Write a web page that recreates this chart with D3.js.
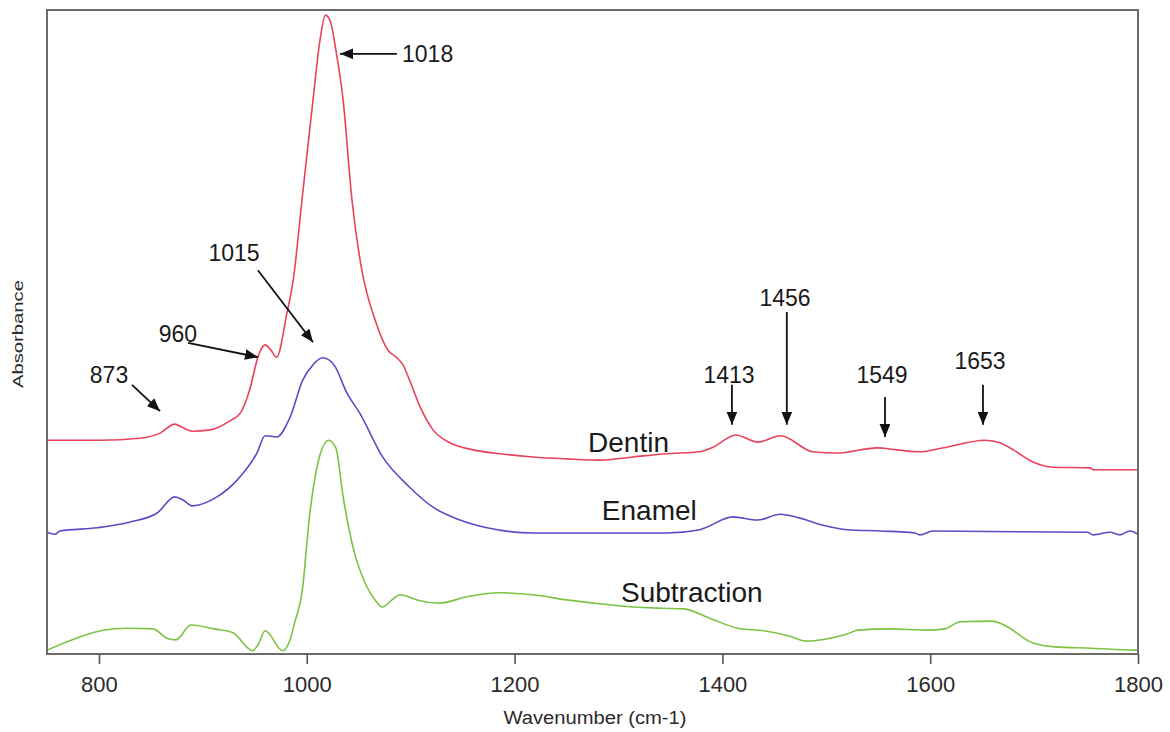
<!DOCTYPE html>
<html>
<head>
<meta charset="utf-8">
<script src="https://cdn.jsdelivr.net/npm/d3@7"></script>
<style>
  html, body { margin: 0; padding: 0; background: #fff; }
  svg { display: block; font-family: "Liberation Sans", Arial, sans-serif; }
</style>
</head>
<body>
<svg id="chart" width="1170" height="732"></svg>
<script>
// FTIR spectra: wavenumber (cm-1) vs absorbance (arbitrary, offset traces)
const dentinWave = [750, 801, 839.5, 858.8, 873, 880, 889.6, 907, 926, 936, 945, 953, 957, 960, 965, 971, 981, 987, 995.4, 1006, 1012.7, 1018, 1023, 1028, 1035, 1043.5, 1053, 1065.7, 1078, 1086, 1092.6, 1099, 1109, 1121.5, 1137.9, 1160, 1186, 1217.7, 1250, 1282, 1314, 1346.7, 1378.5, 1391, 1413, 1434, 1456, 1487, 1510, 1549, 1568, 1590, 1612, 1653, 1667, 1680, 1699, 1718, 1754, 1757, 1800];
const dentinAbs  = [0.332, 0.332, 0.335, 0.343, 0.357, 0.352, 0.346, 0.348, 0.362, 0.374, 0.410, 0.461, 0.476, 0.480, 0.473, 0.461, 0.530, 0.581, 0.705, 0.860, 0.953, 0.992, 0.981, 0.938, 0.860, 0.705, 0.596, 0.519, 0.472, 0.461, 0.449, 0.425, 0.384, 0.348, 0.328, 0.317, 0.311, 0.306, 0.303, 0.301, 0.306, 0.311, 0.314, 0.321, 0.340, 0.329, 0.339, 0.314, 0.312, 0.320, 0.317, 0.314, 0.320, 0.332, 0.328, 0.317, 0.298, 0.290, 0.289, 0.286, 0.286];

const enamelWave = [750, 757.7, 762.5, 798, 830, 856, 873, 881, 889.6, 913.6, 933, 952, 960, 971, 984, 996, 1006, 1015, 1021, 1027, 1038.7, 1051, 1073, 1099, 1121.5, 1147.5, 1173.5, 1217.7, 1282, 1346.7, 1378.5, 1385, 1410, 1434, 1455.5, 1474.7, 1497, 1520, 1551.7, 1585, 1590, 1602.7, 1751, 1757, 1773, 1782.7, 1792, 1800];
const enamelAbs  = [0.189, 0.186, 0.191, 0.196, 0.205, 0.219, 0.244, 0.239, 0.230, 0.244, 0.270, 0.312, 0.339, 0.337, 0.368, 0.425, 0.449, 0.460, 0.457, 0.447, 0.405, 0.374, 0.306, 0.259, 0.228, 0.208, 0.196, 0.188, 0.188, 0.188, 0.193, 0.197, 0.213, 0.208, 0.217, 0.211, 0.200, 0.193, 0.191, 0.188, 0.185, 0.191, 0.189, 0.185, 0.189, 0.185, 0.191, 0.186];

const subtrWave = [750, 778.9, 804, 826, 852, 866, 874, 888.6, 910.7, 929, 948, 953, 960, 977, 983.9, 988.7, 995.4, 1003, 1012.7, 1021, 1028, 1035, 1044.5, 1058, 1065.7, 1073, 1082, 1089.7, 1097.4, 1106, 1128, 1154, 1186, 1217.7, 1250, 1282, 1314, 1342, 1363, 1387, 1415, 1440, 1464, 1481, 1498.8, 1520, 1530.5, 1562, 1597, 1614, 1628.7, 1660, 1671, 1699, 1720, 1754.8, 1797, 1800];
const subtrAbs  = [0.006, 0.025, 0.037, 0.040, 0.039, 0.024, 0.022, 0.045, 0.039, 0.033, 0.005, 0.014, 0.036, 0.005, 0.022, 0.051, 0.095, 0.219, 0.309, 0.332, 0.320, 0.244, 0.166, 0.104, 0.084, 0.073, 0.084, 0.092, 0.089, 0.084, 0.079, 0.089, 0.095, 0.092, 0.084, 0.078, 0.073, 0.071, 0.070, 0.056, 0.040, 0.036, 0.028, 0.020, 0.023, 0.031, 0.037, 0.039, 0.037, 0.039, 0.050, 0.051, 0.045, 0.017, 0.011, 0.009, 0.006, 0.006];

const seriesNames = ["Dentin", "Enamel", "Subtraction"];
const xTicks = [800, 1000, 1200, 1400, 1600, 1800];
const peakLabels = ["1018", "1015", "960", "873", "1413", "1456", "1549", "1653"];

const svg = d3.select("#chart");
const margin = { left: 47, right: 32, top: 10, bottom: 78 };
const W = 1170, H = 732;
const x = d3.scaleLinear().domain([750, 1800]).range([margin.left, W - margin.right]);
const y = d3.scaleLinear().domain([0, 1]).range([H - margin.bottom, margin.top]);

const colors = { Dentin: "#e8435a", Enamel: "#5a4cc4", Subtraction: "#7cc243" };
const series = [
  { name: "Dentin", wave: dentinWave, abs: dentinAbs },
  { name: "Enamel", wave: enamelWave, abs: enamelAbs },
  { name: "Subtraction", wave: subtrWave, abs: subtrAbs }
];

// arrowhead marker
svg.append("defs").append("marker")
  .attr("id", "arrow")
  .attr("viewBox", "0 0 12 10")
  .attr("refX", 12).attr("refY", 5)
  .attr("markerWidth", 13).attr("markerHeight", 11)
  .attr("markerUnits", "userSpaceOnUse")
  .attr("orient", "auto")
  .append("path").attr("d", "M0,0 L12,5 L0,10 Z").attr("fill", "#111");

// spectra
const line = d3.line()
  .x(d => x(d[0]))
  .y(d => y(d[1]))
  .curve(d3.curveMonotoneX);

series.forEach(s => {
  svg.append("path")
    .datum(d3.zip(s.wave, s.abs))
    .attr("d", line)
    .attr("fill", "none")
    .attr("stroke", colors[s.name])
    .attr("stroke-width", 1.6)
    .attr("stroke-linejoin", "round");
});

// frame
svg.append("rect")
  .attr("x", x(750)).attr("y", y(1))
  .attr("width", x(1800) - x(750)).attr("height", y(0) - y(1))
  .attr("fill", "none").attr("stroke", "#6b6b6b").attr("stroke-width", 2);

// x axis
const xAxis = svg.append("g")
  .attr("transform", `translate(0,${y(0)})`)
  .call(d3.axisBottom(x).tickValues(xTicks).tickSize(10).tickPadding(12).tickFormat(d3.format("d")));
xAxis.select(".domain").remove();
xAxis.selectAll(".tick line").attr("stroke", "#555").attr("stroke-width", 1.6);
xAxis.selectAll(".tick text").attr("fill", "#2b2b2b").attr("font-size", 22)
  .attr("font-family", "Liberation Sans, Arial, sans-serif");

svg.append("text")
  .attr("x", 595).attr("y", 724)
  .attr("text-anchor", "middle")
  .attr("font-size", 18).attr("fill", "#2b2b2b")
  .attr("textLength", 183).attr("lengthAdjust", "spacingAndGlyphs")
  .text("Wavenumber (cm-1)");

svg.append("text")
  .attr("transform", "translate(23,334) rotate(-90)")
  .attr("text-anchor", "middle")
  .attr("font-size", 15).attr("fill", "#2b2b2b")
  .attr("textLength", 108).attr("lengthAdjust", "spacingAndGlyphs")
  .text("Absorbance");

// series labels, placed in data units
const seriesLabelAt = [
  { w: 1270.7, a: 0.329 },
  { w: 1284, a: 0.224 },
  { w: 1302.4, a: 0.096 }
];
seriesNames.forEach((n, i) => {
  svg.append("text")
    .attr("x", x(seriesLabelAt[i].w)).attr("y", y(seriesLabelAt[i].a))
    .attr("dy", "0.35em")
    .attr("font-size", 28).attr("fill", "#1a1a1a")
    .text(n);
});

// peak annotations: label position and arrow (from -> to), in data units
const annot = [
  { tx: 1091.7, ta: 0.932, anchor: "start", from: [1086.8, 0.932], to: [1032, 0.932] },
  { tx: 930, ta: 0.623, anchor: "middle", from: [953, 0.596], to: [1006, 0.484] },
  { tx: 876, ta: 0.498, anchor: "middle", from: [885.7, 0.483], to: [953, 0.461] },
  { tx: 809.7, ta: 0.433, anchor: "middle", from: [831.8, 0.418], to: [858.8, 0.377] },
  { tx: 1406.4, ta: 0.433, anchor: "middle", from: [1409.2, 0.418], to: [1409.2, 0.356] },
  { tx: 1460.3, ta: 0.553, anchor: "middle", from: [1462, 0.531], to: [1462, 0.356] },
  { tx: 1553.6, ta: 0.433, anchor: "middle", from: [1556.5, 0.399], to: [1556.5, 0.337] },
  { tx: 1648, ta: 0.456, anchor: "middle", from: [1650.8, 0.418], to: [1650.8, 0.356] }
];
peakLabels.forEach((lab, i) => {
  const a = annot[i];
  svg.append("line")
    .attr("x1", x(a.from[0])).attr("y1", y(a.from[1]))
    .attr("x2", x(a.to[0])).attr("y2", y(a.to[1]))
    .attr("stroke", "#111").attr("stroke-width", 1.8)
    .attr("marker-end", "url(#arrow)");
  svg.append("text")
    .attr("x", x(a.tx)).attr("y", y(a.ta))
    .attr("dy", "0.36em")
    .attr("text-anchor", a.anchor)
    .attr("font-size", 23).attr("fill", "#1a1a1a")
    .text(lab);
});
</script>
</body>
</html>
